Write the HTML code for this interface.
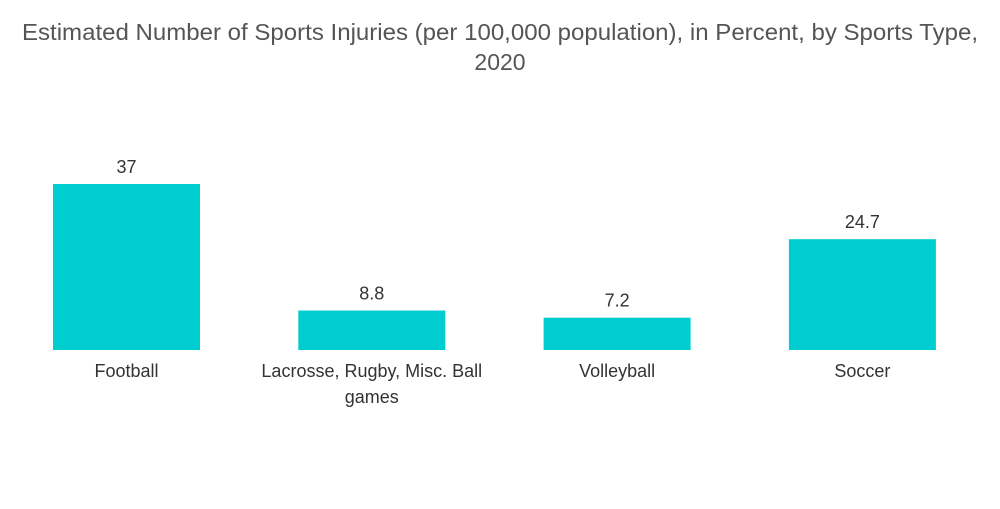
<!DOCTYPE html>
<html><head><meta charset="utf-8">
<style>
body{margin:0;background:#fff;width:1000px;height:504px;overflow:hidden;font-family:"Liberation Sans",sans-serif;}
</style></head>
<body>
<svg id="chart" width="1000" height="504" xmlns="http://www.w3.org/2000/svg">
<text x="500" y="40" text-anchor="middle" font-size="23" fill="#555" textLength="956" lengthAdjust="spacingAndGlyphs">Estimated Number of Sports Injuries (per 100,000 population), in Percent, by Sports Type,</text>
<text x="500" y="70" text-anchor="middle" font-size="23" fill="#555">2020</text>
<g id="bars"></g>
</svg>
<script>
const categories = [["Football"], ["Lacrosse, Rugby, Misc. Ball", "games"], ["Volleyball"], ["Soccer"]];
const values = [37, 8.8, 7.2, 24.7];
const valueLabels = ["37", "8.8", "7.2", "24.7"];

const baseY = 350, pxPerUnit = 166 / 37;
const firstCenter = 126.5, step = 245.3, barW = 147;
function y(v){ return baseY - v * pxPerUnit; }
function xc(i){ return firstCenter + i * step; }

const ns = "http://www.w3.org/2000/svg";
const g = document.getElementById("bars");
values.forEach((v, i) => {
  const r = document.createElementNS(ns, "rect");
  r.setAttribute("x", xc(i) - barW/2);
  r.setAttribute("y", y(v));
  r.setAttribute("width", barW);
  r.setAttribute("height", baseY - y(v));
  r.setAttribute("fill", "#00cdd0");
  
  
  g.appendChild(r);

  const t = document.createElementNS(ns, "text");
  t.setAttribute("x", xc(i));
  t.setAttribute("y", y(v) - 11);
  t.setAttribute("text-anchor", "middle");
  t.setAttribute("font-size", "18");
  t.setAttribute("fill", "#333");
  t.textContent = valueLabels[i];
  
  
  g.appendChild(t);

  categories[i].forEach((line, j) => {
    const c = document.createElementNS(ns, "text");
    c.setAttribute("x", xc(i));
    c.setAttribute("y", 377 + j * 26);
    c.setAttribute("text-anchor", "middle");
    c.setAttribute("font-size", "18");
    c.setAttribute("fill", "#333");
    c.textContent = line;
    
    
    g.appendChild(c);
  });
});
</script>
</body></html>
